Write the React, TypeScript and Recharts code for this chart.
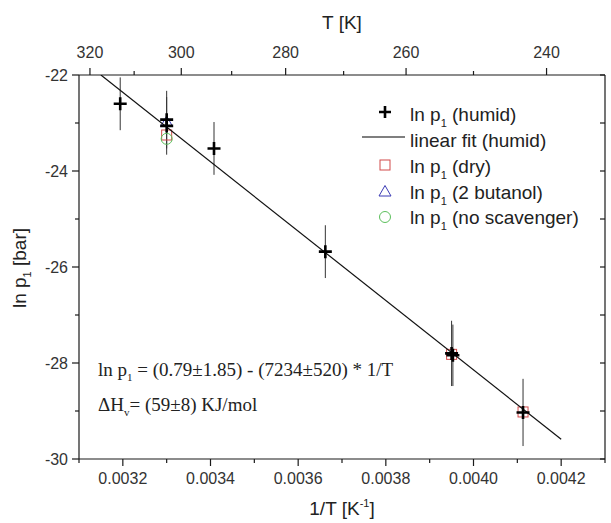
import { ScatterChart, Scatter, XAxis, YAxis, ErrorBar } from 'recharts';

// 1/T values (K^-1) and ln p1 values
const HUMID_X = [0.003194, 0.0033, 0.0033, 0.003408, 0.003662, 0.00395, 0.003953, 0.004113];
const HUMID_Y = [-22.6, -22.93, -23.06, -23.53, -25.68, -27.8, -27.84, -29.03];
const HUMID_ERR = [0.55, 0.6, 0.6, 0.55, 0.55, 0.68, 0.64, 0.7];

const DRY_X = [0.0033, 0.00395, 0.004113];
const DRY_Y = [-23.25, -27.82, -29.02];

const BUTANOL_X = [0.0033];
const BUTANOL_Y = [-22.98];

const NOSCAV_X = [0.0033];
const NOSCAV_Y = [-23.33];

// linear fit ln p1 = 0.79 - 7234 / T, clipped at the top frame
const FIT_X = [0.00315, 0.0042];
const FIT_Y = [-22.0, -29.59];

const X_TICKS = [0.0031, 0.0032, 0.0033, 0.0034, 0.0035, 0.0036, 0.0037, 0.0038, 0.0039, 0.004, 0.0041, 0.0042, 0.0043];
const Y_TICKS = [-30, -29, -28, -27, -26, -25, -24, -23, -22];
const T_TICKS = [320, 310, 300, 290, 280, 270, 260, 250, 240];

const LEGEND_LABELS = ['(humid)', 'linear fit (humid)', '(dry)', '(2 butanol)', '(no scavenger)'];

const RED = '#d24b4b';
const BLUE = '#3b3bb5';
const GREEN = '#5cbf5c';
const AXIS = '#1a1a1a';
const SANS = '"Liberation Sans", Arial, sans-serif';
const SERIF = '"Liberation Serif", "Times New Roman", serif';

const toPoints = (xs: number[], ys: number[], errs?: number[]) =>
  xs.map((x, i) => ({ x, y: ys[i], err: errs ? errs[i] : 0 }));

const humid = toPoints(HUMID_X, HUMID_Y, HUMID_ERR);
const dry = toPoints(DRY_X, DRY_Y);
const butanol = toPoints(BUTANOL_X, BUTANOL_Y);
const noScav = toPoints(NOSCAV_X, NOSCAV_Y);
const fit = toPoints(FIT_X, FIT_Y);

const Plus = ({ cx, cy, s = 6.5 }: any) => (
  <path d={`M${cx - s},${cy}H${cx + s}M${cx},${cy - s}V${cy + s}`} stroke="#000" strokeWidth={2.6} fill="none" />
);
const Square = ({ cx, cy }: any) => (
  <rect x={cx - 5} y={cy - 5} width={10} height={10} fill="none" stroke={RED} strokeWidth={1} />
);
const Triangle = ({ cx, cy }: any) => (
  <path d={`M${cx},${cy - 6}L${cx + 6},${cy + 4.5}L${cx - 6},${cy + 4.5}Z`} fill="none" stroke={BLUE} strokeWidth={1} />
);
const Circle = ({ cx, cy }: any) => <circle cx={cx} cy={cy} r={5.5} fill="none" stroke={GREEN} strokeWidth={1} />;

// draws tick mark + label; tickSize/tickMargin are 0 so x,y sit on the axis line
const renderTick = (side: string) => (p: any) => {
  const { x, y, payload } = p;
  const v = payload.value;
  let major = false;
  let label = '';
  if (side === 'bottom') {
    major = Math.round(v * 1e4) % 2 === 0;
    label = v.toFixed(4);
  } else if (side === 'top') {
    const t = Math.round(1 / v);
    major = t % 20 === 0;
    label = String(t);
  } else {
    major = Math.round(v) % 2 === 0;
    label = String(v);
  }
  const len = major ? 7 : 4;
  if (side === 'bottom')
    return (
      <g>
        <line x1={x} y1={y} x2={x} y2={y + len} stroke={AXIS} strokeWidth={1.2} />
        {major && (
          <text x={x} y={y + 25} textAnchor="middle" fontSize={16} fontFamily={SANS} fill="#333">{label}</text>
        )}
      </g>
    );
  if (side === 'top')
    return (
      <g>
        <line x1={x} y1={y} x2={x} y2={y - len} stroke={AXIS} strokeWidth={1.2} />
        {major && (
          <text x={x} y={y - 17} textAnchor="middle" fontSize={16} fontFamily={SANS} fill="#333">{label}</text>
        )}
      </g>
    );
  if (side === 'left')
    return (
      <g>
        <line x1={x} y1={y} x2={x - len} y2={y} stroke={AXIS} strokeWidth={1.2} />
        {major && (
          <text x={x - 11} y={y + 5.5} textAnchor="end" fontSize={16} fontFamily={SANS} fill="#333">{label}</text>
        )}
      </g>
    );
  return <line x1={x} y1={y} x2={x - 5} y2={y} stroke={AXIS} strokeWidth={1.2} />;
};

const LegendOverlay = () => {
  const rows = [114, 140, 166, 191.5, 217];
  const sx = 385;
  const tx = 410;
  return (
    <g fontFamily={SANS} fontSize={19} fill="#222">
      {LEGEND_LABELS.map((lab, i) => {
        const cy = rows[i];
        let sym = null;
        if (i === 0) sym = <Plus cx={sx} cy={cy - 2} s={6} />;
        if (i === 1) sym = <line x1={362} y1={cy - 3} x2={405} y2={cy - 3} stroke="#000" strokeWidth={1.2} />;
        if (i === 2) sym = <Square cx={sx} cy={cy - 1} />;
        if (i === 3) sym = <Triangle cx={sx} cy={cy} />;
        if (i === 4) sym = <Circle cx={sx} cy={cy} />;
        return (
          <g key={lab}>
            {sym}
            {i === 1 ? (
              <text x={tx} y={cy + 7}>{lab}</text>
            ) : (
              <text x={tx} y={cy + 7}>
                ln p<tspan fontSize={11} dy={6}>1</tspan>
                <tspan dy={-6}> {lab}</tspan>
              </text>
            )}
          </g>
        );
      })}
    </g>
  );
};

export default function App() {
  return (
    <div style={{ position: 'absolute', left: 0, top: 0, width: 611, height: 523, background: '#fff' }}>
      <ScatterChart width={611} height={523} margin={{ top: 0, right: 0, bottom: 0, left: 0 }}>
        <XAxis
          xAxisId="bottom"
          dataKey="x"
          type="number"
          domain={[0.0031, 0.0043]}
          allowDataOverflow
          ticks={X_TICKS}
          interval={0}
          height={64}
          tickSize={0}
          tickMargin={0}
          tickLine={false}
          axisLine={{ stroke: AXIS, strokeWidth: 1.2 }}
          tick={renderTick('bottom')}
        />
        <XAxis
          xAxisId="top"
          orientation="top"
          dataKey="x"
          type="number"
          domain={[0.0031, 0.0043]}
          allowDataOverflow
          ticks={T_TICKS.map((t) => 1 / t)}
          interval={0}
          height={75}
          tickSize={0}
          tickMargin={0}
          tickLine={false}
          axisLine={{ stroke: AXIS, strokeWidth: 1.2 }}
          tick={renderTick('top')}
        />
        <YAxis
          yAxisId="left"
          dataKey="y"
          type="number"
          domain={[-30, -22]}
          allowDataOverflow
          ticks={Y_TICKS}
          interval={0}
          width={79}
          tickSize={0}
          tickMargin={0}
          tickLine={false}
          axisLine={{ stroke: AXIS, strokeWidth: 1.2 }}
          tick={renderTick('left')}
        />
        <YAxis
          yAxisId="right"
          orientation="right"
          dataKey="y"
          type="number"
          domain={[-30, -22]}
          allowDataOverflow
          ticks={Y_TICKS}
          interval={0}
          width={6}
          tickSize={0}
          tickMargin={0}
          tickLine={false}
          axisLine={{ stroke: AXIS, strokeWidth: 1.2 }}
          tick={renderTick('right')}
        />
        <Scatter xAxisId="bottom" yAxisId="left" data={dry} shape={Square} isAnimationActive={false} />
        <Scatter xAxisId="bottom" yAxisId="left" data={butanol} shape={Triangle} isAnimationActive={false} />
        <Scatter xAxisId="bottom" yAxisId="left" data={noScav} shape={Circle} isAnimationActive={false} />
        <Scatter
          xAxisId="top"
          yAxisId="right"
          data={fit}
          line={{ stroke: '#111', strokeWidth: 1.2 }}
          shape={() => <g />}
          isAnimationActive={false}
        />
        <Scatter xAxisId="bottom" yAxisId="left" data={humid} shape={(p: any) => <Plus cx={p.cx} cy={p.cy} />} isAnimationActive={false}>
          <ErrorBar dataKey="err" direction="y" width={0} stroke="#333" strokeWidth={1} />
        </Scatter>
      </ScatterChart>
      <svg width={611} height={523} style={{ position: 'absolute', left: 0, top: 0, pointerEvents: 'none' }}>
        <LegendOverlay />
        <g fontFamily={SERIF} fontSize={19} fill="#222">
          <text x={98} y={376}>
            ln p<tspan fontSize={11} dy={5}>1</tspan>
            <tspan dy={-5}> = (0.79±1.85) - (7234±520) * 1/T</tspan>
          </text>
          <text x={98} y={411}>
            ΔH<tspan fontSize={11} dy={5}>v</tspan>
            <tspan dy={-5}>= (59±8) KJ/mol</tspan>
          </text>
        </g>
        <g fontFamily={SANS} fontSize={19} fill="#222">
          <text x={342} y={29} textAnchor="middle">T [K]</text>
          <text x={342} y={515} textAnchor="middle">
            1/T [K<tspan fontSize={11} dy={-8}>-1</tspan>
            <tspan dy={8}>]</tspan>
          </text>
          <text transform="translate(26,268) rotate(-90)" textAnchor="middle">
            ln p<tspan fontSize={11} dy={5}>1</tspan>
            <tspan dy={-5}> [bar]</tspan>
          </text>
        </g>
      </svg>
    </div>
  );
}
